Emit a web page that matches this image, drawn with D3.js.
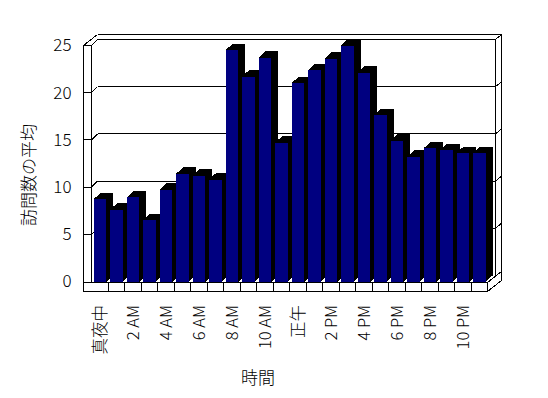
<!DOCTYPE html>
<html>
<head>
<meta charset="utf-8">
<script src="https://cdn.jsdelivr.net/npm/d3@7"></script>
<style>
  body { margin: 0; background: #fff; }
  svg { display: block; font-family: "Noto Sans CJK JP", "Noto Sans", sans-serif; }
</style>
</head>
<body>
<div id="chart"></div>
<script>
// categories (hours of the day)
const hours = ['真夜中', '1 AM', '2 AM', '3 AM', '4 AM', '5 AM', '6 AM', '7 AM', '8 AM', '9 AM', '10 AM', '11 AM',
  '正午', '1 PM', '2 PM', '3 PM', '4 PM', '5 PM', '6 PM', '7 PM', '8 PM', '9 PM', '10 PM', '11 PM'];
// average visits per hour
const visits = [8.7, 7.6, 8.9, 6.5, 9.7, 11.4, 11.2, 10.8, 24.5, 21.7, 23.7, 14.7,
  21.0, 22.4, 23.6, 25.0, 22.1, 17.6, 14.9, 13.2, 14.1, 13.9, 13.6, 13.6];
const yTicks = [0, 5, 10, 15, 20, 25];
const xTickLabels = hours.filter((d, i) => i % 2 === 0);

const width = 548, height = 398;

const svg = d3.select('#chart').append('svg')
  .attr('width', width)
  .attr('height', height)
  .attr('shape-rendering', 'crispEdges');

// front plane of the 3d box
const xOuter = 83.5;          // outer edge of the left wall
const floorBottom = 291.5;
const inner = { dx: 6, dy: -6 };   // back wall inner face
const outer = { dx: 14, dy: -11 }; // back wall outer face
const barDepth = { dx: 7, dy: -6.5 };

const x = d3.scaleBand()
  .domain(hours)
  .range([91.5, 487.5])
  .paddingInner(0)
  .paddingOuter(0);

const y = d3.scaleLinear()
  .domain([0, 25])
  .range([281.5, 45.5]);

const xL = x.range()[0], xR = x.range()[1];
const yTop = y(25), floorTop = y(0) + 1;

const line = (g, x1, y1, x2, y2) => g.append('line')
  .attr('x1', x1).attr('y1', y1).attr('x2', x2).attr('y2', y2)
  .attr('stroke', '#000').attr('stroke-width', 1);

const frame = svg.append('g');

// top edges of the walls
line(frame, xOuter, yTop, xOuter + outer.dx, yTop + outer.dy);
line(frame, xOuter + outer.dx, yTop + outer.dy, xR + outer.dx, yTop + outer.dy);
line(frame, xOuter, yTop, xL, yTop);
line(frame, xL, yTop, xL + inner.dx, yTop + inner.dy);
line(frame, xL + inner.dx, yTop + inner.dy, xR + 8, yTop + inner.dy);
line(frame, xR + 8, yTop + inner.dy, xR + outer.dx, yTop + outer.dy);

// right edges of the back wall
line(frame, xR + 8, yTop + inner.dy, xR + 8, floorTop - 6.5);
line(frame, xR + outer.dx, yTop + outer.dy, xR + outer.dx, floorBottom + outer.dy);

// left wall front face
line(frame, xOuter, yTop, xOuter, floorBottom);
line(frame, xL, yTop, xL, floorTop);

// gridlines on the back wall and ticks on the left wall
const grid = svg.append('g');
yTicks.forEach(v => {
  const yy = y(v);
  if (v > 0 && v < 25) {
    line(grid, xL + inner.dx, yy + inner.dy, xR + 8, yy + inner.dy);
    line(grid, xR + 8, yy + inner.dy, xR + outer.dx, yy + outer.dy);
  }
  if (v > 0) {
    line(grid, xOuter, yy, xL, yy);
    line(grid, xL, yy, xL + inner.dx, yy + inner.dy);
  }
});

// floor right face
svg.append('polygon')
  .attr('points', [[xR, floorTop], [xR, floorBottom], [xR + outer.dx, floorBottom + outer.dy], [xR + outer.dx, floorTop + outer.dy]].join(' '))
  .attr('fill', '#fff')
  .attr('stroke', '#000');

// bars
const bw = 12.5, bOff = 2;
const bars = svg.append('g');
hours.forEach((h, i) => {
  const x0 = x(h) + bOff, x1 = x0 + bw;
  const yt = y(visits[i]), yb = floorTop - 0.5;
  bars.append('polygon')
    .attr('points', [
      [x0, yt], [x0 + barDepth.dx, yt + barDepth.dy], [x1 + barDepth.dx, yt + barDepth.dy],
      [x1 + barDepth.dx, yb + barDepth.dy], [x1, yb], [x1, yt]
    ].join(' '))
    .attr('fill', '#000');
  bars.append('rect')
    .attr('x', x0)
    .attr('y', yt)
    .attr('width', bw)
    .attr('height', yb - yt)
    .attr('fill', '#000080');
});

// floor front face with category ticks
svg.append('rect')
  .attr('x', xOuter)
  .attr('y', floorTop)
  .attr('width', xR - xOuter)
  .attr('height', floorBottom - floorTop)
  .attr('fill', '#fff')
  .attr('stroke', '#000');
hours.slice(1).forEach(h => line(svg, x(h), floorTop, x(h), floorBottom));

// y axis labels
const yAxis = d3.axisLeft(y).tickValues(yTicks).tickSize(0).tickPadding(12);
const yAxisG = svg.append('g')
  .attr('transform', `translate(${xOuter},0)`)
  .call(yAxis);
yAxisG.select('.domain').remove();
yAxisG.selectAll('text')
  .attr('font-family', '"Noto Sans CJK JP", sans-serif')
  .attr('font-size', 17)
  .attr('font-weight', 300)
  .attr('fill', '#000');

// x axis labels
const xAxis = d3.axisBottom(x).tickValues(xTickLabels).tickSize(0);
const xAxisG = svg.append('g')
  .attr('transform', 'translate(0,305)')
  .call(xAxis);
xAxisG.select('.domain').remove();
xAxisG.selectAll('text')
  .attr('x', 0)
  .attr('y', 0)
  .attr('dy', '0.35em')
  .attr('transform', 'rotate(-90)')
  .style('text-anchor', 'end')
  .attr('font-family', '"Noto Sans CJK JP", sans-serif')
  .attr('font-size', 16.5)
  .attr('font-weight', 300)
  .attr('fill', '#000');

// axis titles
svg.append('text')
  .attr('transform', `translate(29,175) rotate(-90)`)
  .attr('text-anchor', 'middle')
  .attr('dy', '0.35em')
  .attr('font-size', 17)
  .attr('font-weight', 300)
  .text('訪問数の平均');

svg.append('text')
  .attr('x', 258)
  .attr('y', 378)
  .attr('text-anchor', 'middle')
  .attr('dy', '0.35em')
  .attr('font-size', 17)
  .attr('font-weight', 300)
  .text('時間');
</script>
</body>
</html>
